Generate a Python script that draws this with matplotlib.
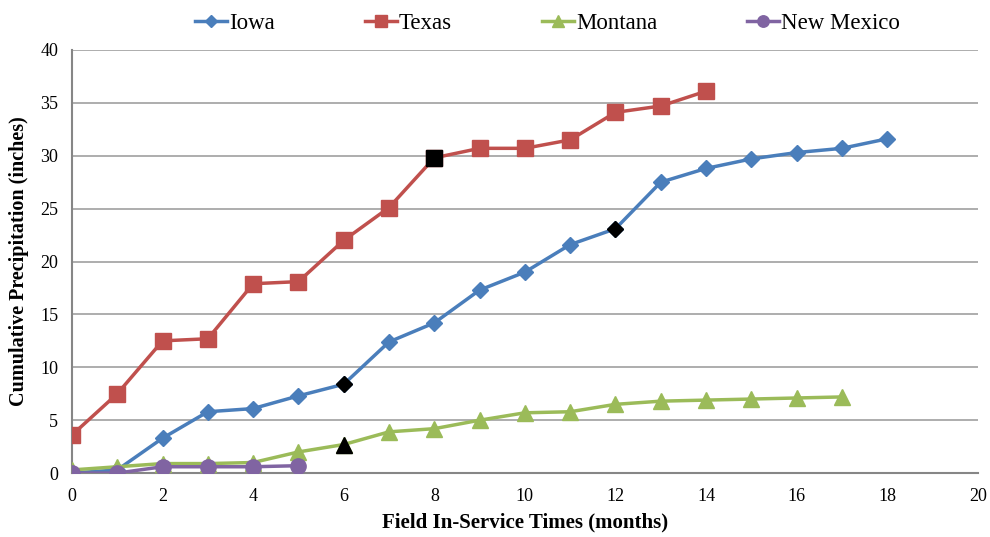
import matplotlib
matplotlib.use("Agg")
import matplotlib.pyplot as plt

plt.rcParams['font.family'] = ['Liberation Serif', 'DejaVu Serif']

months_iowa = list(range(0, 19))
iowa = [0.0, 0.3, 3.3, 5.8, 6.1, 7.3, 8.4, 12.4, 14.2, 17.3, 19.0, 21.6, 23.1, 27.5, 28.8, 29.7, 30.3, 30.7, 31.6]
months_texas = list(range(0, 15))
texas = [3.6, 7.5, 12.5, 12.7, 17.9, 18.1, 22.0, 25.1, 29.8, 30.7, 30.7, 31.5, 34.1, 34.7, 36.1]
months_montana = list(range(0, 18))
montana = [0.3, 0.6, 0.9, 0.9, 1.0, 2.0, 2.7, 3.9, 4.2, 5.0, 5.7, 5.8, 6.5, 6.8, 6.9, 7.0, 7.1, 7.2]
months_nm = list(range(0, 6))
new_mexico = [0.0, 0.0, 0.6, 0.6, 0.6, 0.7]

highlight_iowa = [6, 12]
highlight_texas = [8]
highlight_montana = [6]

fig = plt.figure(figsize=(9.9, 5.37), dpi=100)
ax = fig.add_axes([0.0727, 0.119, 0.915, 0.788])

c_iowa = '#4a7ebb'
c_texas = '#c0504d'
c_mont = '#9bbb59'
c_nm = '#8064a2'

ax.plot(months_iowa, iowa, color=c_iowa, lw=2.5, marker='D', ms=8, label='Iowa', zorder=3)
ax.plot(months_texas, texas, color=c_texas, lw=2.5, marker='s', ms=11, label='Texas', zorder=3)
ax.plot(months_montana, montana, color=c_mont, lw=2.5, marker='^', ms=11, label='Montana', zorder=3)
ax.plot(months_nm, new_mexico, color=c_nm, lw=2.5, marker='o', ms=11, label='New Mexico', zorder=3)

ax.plot(highlight_iowa, [iowa[i] for i in highlight_iowa], ls='none', marker='D', ms=8, color='black', zorder=4)
ax.plot(highlight_texas, [texas[i] for i in highlight_texas], ls='none', marker='s', ms=11, color='black', zorder=4)
ax.plot(highlight_montana, [montana[i] for i in highlight_montana], ls='none', marker='^', ms=11, color='black', zorder=4)

ax.set_xlim(0, 20)
ax.set_ylim(0, 40)
ax.set_xticks(range(0, 21, 2))
ax.set_yticks(range(0, 41, 5))
ax.yaxis.grid(True, color='#a0a0a0', lw=1.2)
ax.set_axisbelow(True)
for s in ['top', 'right']:
    ax.spines[s].set_visible(False)
for s in ['left', 'bottom']:
    ax.spines[s].set_color('#868686')
    ax.spines[s].set_linewidth(1.5)
ax.tick_params(axis='x', length=0, labelsize=13, pad=11)
ax.tick_params(axis='y', length=0, labelsize=13, pad=10)
ax.set_xlabel('Field In-Service Times (months)', fontsize=15, fontweight='bold', labelpad=5)
ax.set_ylabel('Cumulative Precipitation (inches)', fontsize=14.5, fontweight='bold', labelpad=8)

leg = fig.legend(loc='upper center', bbox_to_anchor=(0.553, 1.015), ncol=4, frameon=False,
                 fontsize=16.5, columnspacing=3.9, handlelength=1.4, handletextpad=0.1,
                 markerscale=0.75)

fig.savefig('out.png', dpi=100)
